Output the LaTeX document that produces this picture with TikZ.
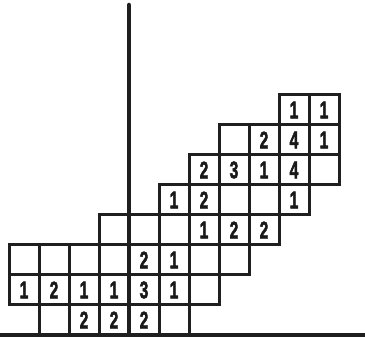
\documentclass[tikz,border=0pt]{standalone}
\usepackage{fontspec}
\setmainfont{Liberation Sans}
\newfontfamily\digfont[FakeBold=2.5]{Liberation Sans}
\begin{document}
\begin{tikzpicture}[x=1pt,y=1pt,
  cell/.style={draw=black!88, line width=3pt, minimum size=30pt, inner sep=0pt, anchor=center,
    font=\digfont\fontsize{24}{24}\selectfont\bfseries, text=black!90},
  heavy/.style={draw=black!88, line width=4.5pt}]
\useasboundingbox (0,0) rectangle (365,337);
\fill[white] (0,0) rectangle (365,337);
% empty cells
\foreach \i/\j in {1/0,5/0,6/1,0/2,1/2,2/2,3/2,6/2,7/2,3/3,4/3,5/3,7/4,8/4,10/5,7/6}
  \node[cell] (c\i-\j) at ({24+30*\i},{17+30*\j}) {};
% cells with digits
\foreach \i/\j/\d in {2/0/2,3/0/2,4/0/2,
    0/1/1,1/1/2,2/1/1,3/1/1,4/1/3,5/1/1,
    4/2/2,5/2/1,
    6/3/1,7/3/2,8/3/2,
    5/4/1,6/4/2,9/4/1,
    6/5/2,7/5/3,8/5/1,9/5/4,
    8/6/2,9/6/4,10/6/1,
    9/7/1,10/7/1}
  \node[cell] (c\i-\j) at ({24+30*\i},{17+30*\j}) {\scalebox{0.65}[1]{\d}};
% long vertical line and base line
\coordinate (top) at (129,332);
\coordinate (bl) at (0,2);
\coordinate (br) at (365,2);
\coordinate (foot) at (129,2);
\draw[heavy, line cap=round] (top) -- (foot);
\draw[heavy] (bl) -- (br);
\end{tikzpicture}
\end{document}
